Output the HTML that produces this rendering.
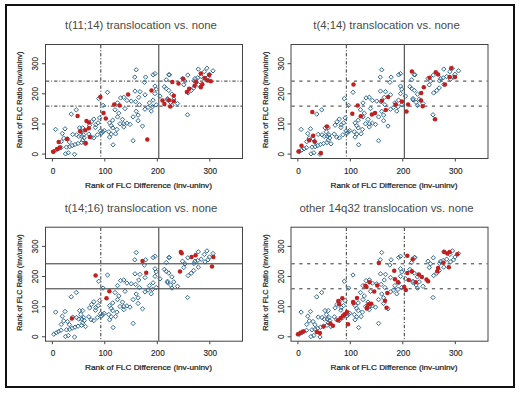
<!DOCTYPE html>
<html><head><meta charset="utf-8"><style>
html,body{margin:0;padding:0;background:#fff;width:520px;height:393px;overflow:hidden}
svg{display:block}
text{font-family:"Liberation Sans",sans-serif}
</style></head><body>
<svg width="520" height="393" viewBox="0 0 520 393">
<rect width="520" height="393" fill="#fff"/>
<g transform="translate(0,0)">
<line x1="100.8" y1="45" x2="100.8" y2="158" stroke="#333" stroke-width="1" stroke-dasharray="3.3,1.9,1,1.9"/>
<line x1="158.8" y1="45" x2="158.8" y2="158" stroke="#333" stroke-width="1"/>
<line x1="46" y1="81.1" x2="242" y2="81.1" stroke="#333" stroke-width="1" stroke-dasharray="3.3,1.9,1,1.9"/>
<line x1="46" y1="106.1" x2="242" y2="106.1" stroke="#333" stroke-width="1" stroke-dasharray="3.3,1.9,1,1.9"/>
<path d="M72.7 132.2L74.9 134.4L72.7 136.6L70.5 134.4ZM55.6 127.2L57.8 129.4L55.6 131.6L53.4 129.4ZM65.0 126.6L67.2 128.8L65.0 131.0L62.8 128.8ZM71.2 111.9L73.5 114.1L71.2 116.3L69.0 114.1ZM62.3 131.3L64.5 133.5L62.3 135.7L60.1 133.5ZM61.2 139.5L63.4 141.7L61.2 143.9L59.0 141.7ZM63.8 136.0L66.0 138.2L63.8 140.4L61.5 138.2ZM67.5 136.6L69.7 138.8L67.5 141.0L65.3 138.8ZM69.4 139.8L71.6 142.0L69.4 144.2L67.2 142.0ZM53.8 149.3L56.0 151.5L53.8 153.7L51.6 151.5ZM56.2 147.9L58.4 150.1L56.2 152.3L54.0 150.1ZM58.5 146.6L60.7 148.8L58.5 151.0L56.3 148.8ZM61.0 145.4L63.2 147.6L61.0 149.8L58.8 147.6ZM66.5 144.9L68.7 147.1L66.5 149.3L64.3 147.1ZM69.6 144.5L71.8 146.7L69.6 148.9L67.4 146.7ZM72.2 143.3L74.4 145.5L72.2 147.7L70.0 145.5ZM75.0 142.3L77.2 144.5L75.0 146.7L72.8 144.5ZM78.0 141.3L80.2 143.5L78.0 145.7L75.8 143.5ZM81.5 140.4L83.7 142.6L81.5 144.8L79.3 142.6ZM85.5 141.6L87.7 143.8L85.5 146.0L83.3 143.8ZM65.5 151.6L67.7 153.8L65.5 156.0L63.3 153.8ZM68.3 150.6L70.5 152.8L68.3 155.0L66.1 152.8ZM74.5 152.1L76.7 154.3L74.5 156.5L72.3 154.3ZM99.6 115.7L101.8 117.9L99.6 120.1L97.4 117.9ZM93.8 116.9L96.0 119.1L93.8 121.3L91.6 119.1ZM91.5 119.6L93.7 121.8L91.5 124.0L89.3 121.8ZM89.6 123.0L91.8 125.2L89.6 127.4L87.4 125.2ZM95.8 122.6L98.0 124.8L95.8 127.0L93.6 124.8ZM95.4 125.3L97.6 127.5L95.4 129.7L93.2 127.5ZM98.1 120.7L100.3 122.9L98.1 125.1L95.9 122.9ZM112.7 118.0L114.9 120.2L112.7 122.4L110.5 120.2ZM109.6 120.7L111.8 122.9L109.6 125.1L107.4 122.9ZM111.2 123.4L113.4 125.6L111.2 127.8L109.0 125.6ZM112.7 125.7L114.9 127.9L112.7 130.1L110.5 127.9ZM108.8 129.6L111.0 131.8L108.8 134.0L106.6 131.8ZM111.2 131.9L113.4 134.1L111.2 136.3L109.0 134.1ZM109.6 134.9L111.8 137.1L109.6 139.3L107.4 137.1ZM100.4 128.8L102.6 131.0L100.4 133.2L98.2 131.0ZM102.7 129.6L104.9 131.8L102.7 134.0L100.5 131.8ZM104.2 128.4L106.4 130.6L104.2 132.8L102.0 130.6ZM101.5 131.1L103.7 133.3L101.5 135.5L99.3 133.3ZM97.3 132.6L99.5 134.8L97.3 137.0L95.1 134.8ZM93.8 135.7L96.0 137.9L93.8 140.1L91.6 137.9ZM91.2 134.9L93.4 137.1L91.2 139.3L89.0 137.1ZM88.8 131.9L91.0 134.1L88.8 136.3L86.6 134.1ZM82.7 125.7L84.9 127.9L82.7 130.1L80.5 127.9ZM79.6 125.7L81.8 127.9L79.6 130.1L77.4 127.9ZM80.8 129.6L83.0 131.8L80.8 134.0L78.6 131.8ZM83.5 132.6L85.7 134.8L83.5 137.0L81.3 134.8ZM84.2 135.7L86.4 137.9L84.2 140.1L82.0 137.9ZM81.9 134.2L84.1 136.4L81.9 138.6L79.7 136.4ZM76.5 132.6L78.7 134.8L76.5 137.0L74.3 134.8ZM78.8 134.2L81.0 136.4L78.8 138.6L76.6 136.4ZM82.7 138.0L84.9 140.2L82.7 142.4L80.5 140.2ZM98.8 96.4L101.0 98.6L98.8 100.8L96.5 98.6ZM103.1 103.2L105.3 105.4L103.1 107.6L100.9 105.4ZM76.2 107.6L78.5 109.8L76.2 112.0L74.0 109.8ZM118.8 111.0L121.0 113.2L118.8 115.4L116.5 113.2ZM117.5 114.7L119.7 116.9L117.5 119.1L115.3 116.9ZM115.6 131.6L117.8 133.8L115.6 136.0L113.4 133.8ZM116.9 127.2L119.1 129.4L116.9 131.6L114.7 129.4ZM113.1 142.6L115.3 144.8L113.1 147.0L110.9 144.8ZM122.5 117.2L124.7 119.4L122.5 121.6L120.3 119.4ZM120.0 121.6L122.2 123.8L120.0 126.0L117.8 123.8ZM123.8 121.6L126.0 123.8L123.8 126.0L121.5 123.8ZM123.8 124.7L126.0 126.9L123.8 129.1L121.5 126.9ZM126.9 121.0L129.1 123.2L126.9 125.4L124.7 123.2ZM130.0 122.2L132.2 124.4L130.0 126.6L127.8 124.4ZM133.1 114.7L135.3 116.9L133.1 119.1L130.9 116.9ZM138.1 112.9L140.3 115.1L138.1 117.3L135.9 115.1ZM138.1 118.5L140.3 120.7L138.1 122.9L135.9 120.7ZM142.5 123.9L144.7 126.1L142.5 128.2L140.3 126.1ZM133.1 138.5L135.3 140.7L133.1 142.9L130.9 140.7ZM136.2 67.6L138.4 69.8L136.2 72.0L134.1 69.8ZM134.8 74.9L136.9 77.1L134.8 79.3L132.6 77.1ZM145.6 74.9L147.8 77.1L145.6 79.3L143.4 77.1ZM144.4 80.1L146.6 82.3L144.4 84.5L142.2 82.3ZM153.1 72.6L155.3 74.8L153.1 77.0L150.9 74.8ZM155.0 71.4L157.2 73.6L155.0 75.8L152.8 73.6ZM166.2 77.6L168.4 79.8L166.2 82.0L164.1 79.8ZM168.8 72.6L170.9 74.8L168.8 77.0L166.6 74.8ZM107.5 90.1L109.7 92.3L107.5 94.5L105.3 92.3ZM135.0 88.9L137.2 91.1L135.0 93.3L132.8 91.1ZM140.0 89.5L142.2 91.7L140.0 93.9L137.8 91.7ZM145.0 92.6L147.2 94.8L145.0 97.0L142.8 94.8ZM138.8 95.1L140.9 97.3L138.8 99.5L136.6 97.3ZM155.0 83.9L157.2 86.1L155.0 88.3L152.8 86.1ZM156.2 87.0L158.4 89.2L156.2 91.4L154.1 89.2ZM155.0 91.4L157.2 93.6L155.0 95.8L152.8 93.6ZM160.0 93.9L162.2 96.1L160.0 98.3L157.8 96.1ZM164.4 84.5L166.6 86.7L164.4 88.9L162.2 86.7ZM166.2 86.4L168.4 88.6L166.2 90.8L164.1 88.6ZM167.5 97.6L169.7 99.8L167.5 102.0L165.3 99.8ZM153.1 97.9L155.3 100.1L153.1 102.3L150.9 100.1ZM149.4 100.7L151.6 102.9L149.4 105.1L147.2 102.9ZM120.6 95.7L122.8 97.9L120.6 100.1L118.4 97.9ZM123.8 95.1L126.0 97.3L123.8 99.5L121.5 97.3ZM126.9 98.2L129.1 100.4L126.9 102.6L124.7 100.4ZM131.2 98.9L133.4 101.1L131.2 103.3L129.1 101.1ZM135.6 99.5L137.8 101.7L135.6 103.9L133.4 101.7ZM117.5 100.7L119.7 102.9L117.5 105.1L115.3 102.9ZM139.4 102.6L141.6 104.8L139.4 107.0L137.2 104.8ZM115.0 107.6L117.2 109.8L115.0 112.0L112.8 109.8ZM125.0 106.4L127.2 108.6L125.0 110.8L122.8 108.6ZM136.2 109.1L138.4 111.3L136.2 113.5L134.1 111.3ZM145.0 107.0L147.2 109.2L145.0 111.4L142.8 109.2ZM148.1 105.1L150.3 107.3L148.1 109.5L145.9 107.3ZM151.2 108.9L153.4 111.1L151.2 113.3L149.1 111.1ZM152.5 104.5L154.7 106.7L152.5 108.9L150.3 106.7ZM156.2 102.6L158.4 104.8L156.2 107.0L154.1 104.8ZM169.4 72.6L171.6 74.8L169.4 77.0L167.2 74.8ZM182.5 76.3L184.7 78.5L182.5 80.7L180.3 78.5ZM185.0 78.9L187.2 81.1L185.0 83.3L182.8 81.1ZM187.8 72.9L190.0 75.1L187.8 77.3L185.6 75.1ZM198.3 66.9L200.5 69.1L198.3 71.3L196.1 69.1ZM195.0 76.4L197.2 78.6L195.0 80.8L192.8 78.6ZM194.0 78.6L196.2 80.8L194.0 83.0L191.8 80.8ZM197.7 75.6L199.9 77.8L197.7 80.0L195.5 77.8ZM201.2 74.3L203.4 76.5L201.2 78.7L199.0 76.5ZM204.3 69.5L206.5 71.7L204.3 73.9L202.1 71.7ZM206.9 66.0L209.1 68.2L206.9 70.4L204.7 68.2ZM205.0 77.0L207.2 79.2L205.0 81.4L202.8 79.2ZM208.0 74.9L210.2 77.1L208.0 79.3L205.8 77.1ZM209.5 72.1L211.7 74.3L209.5 76.5L207.3 74.3ZM213.0 68.6L215.2 70.8L213.0 73.0L210.8 70.8ZM198.3 82.3L200.5 84.5L198.3 86.7L196.1 84.5ZM183.8 82.6L185.9 84.8L183.8 87.0L181.6 84.8ZM193.7 85.7L195.9 87.9L193.7 90.1L191.5 87.9ZM191.2 88.3L193.4 90.5L191.2 92.7L189.0 90.5ZM188.1 90.7L190.3 92.9L188.1 95.1L185.9 92.9ZM168.8 88.2L170.9 90.4L168.8 92.6L166.6 90.4ZM171.9 92.0L174.1 94.2L171.9 96.4L169.7 94.2ZM167.5 96.4L169.7 98.6L167.5 100.8L165.3 98.6ZM173.8 97.0L175.9 99.2L173.8 101.4L171.6 99.2ZM170.6 100.1L172.8 102.3L170.6 104.5L168.4 102.3ZM177.5 101.4L179.7 103.6L177.5 105.8L175.3 103.6ZM171.9 103.2L174.1 105.4L171.9 107.6L169.7 105.4ZM187.5 112.6L189.7 114.8L187.5 117.0L185.3 114.8Z" fill="none" stroke="#336a94" stroke-width="1"/>
<circle cx="77.6" cy="116.0" r="2.25" fill="#c21f1f"/>
<circle cx="86.5" cy="121.0" r="2.25" fill="#c21f1f"/>
<circle cx="89.0" cy="122.5" r="2.25" fill="#c21f1f"/>
<circle cx="80.1" cy="131.3" r="2.25" fill="#c21f1f"/>
<circle cx="85.2" cy="130.3" r="2.25" fill="#c21f1f"/>
<circle cx="88.8" cy="128.2" r="2.25" fill="#c21f1f"/>
<circle cx="89.8" cy="136.9" r="2.25" fill="#c21f1f"/>
<circle cx="85.7" cy="143.0" r="2.25" fill="#c21f1f"/>
<circle cx="66.9" cy="138.9" r="2.25" fill="#c21f1f"/>
<circle cx="58.7" cy="142.0" r="2.25" fill="#c21f1f"/>
<circle cx="59.8" cy="147.6" r="2.25" fill="#c21f1f"/>
<circle cx="57.2" cy="149.1" r="2.25" fill="#c21f1f"/>
<circle cx="53.1" cy="151.7" r="2.25" fill="#c21f1f"/>
<circle cx="100.4" cy="96.9" r="2.25" fill="#c21f1f"/>
<circle cx="103.5" cy="113.1" r="2.25" fill="#c21f1f"/>
<circle cx="105.8" cy="118.5" r="2.25" fill="#c21f1f"/>
<circle cx="114.2" cy="104.6" r="2.25" fill="#c21f1f"/>
<circle cx="119.6" cy="105.4" r="2.25" fill="#c21f1f"/>
<circle cx="128.1" cy="94.6" r="2.25" fill="#c21f1f"/>
<circle cx="147.3" cy="139.5" r="2.25" fill="#c21f1f"/>
<circle cx="151.5" cy="90.4" r="2.25" fill="#c21f1f"/>
<circle cx="162.5" cy="100.6" r="2.25" fill="#c21f1f"/>
<circle cx="164.4" cy="104.0" r="2.25" fill="#c21f1f"/>
<circle cx="169.0" cy="100.2" r="2.25" fill="#c21f1f"/>
<circle cx="170.2" cy="106.4" r="2.25" fill="#c21f1f"/>
<circle cx="173.8" cy="95.8" r="2.25" fill="#c21f1f"/>
<circle cx="173.8" cy="101.2" r="2.25" fill="#c21f1f"/>
<circle cx="172.3" cy="81.9" r="2.25" fill="#c21f1f"/>
<circle cx="178.5" cy="83.5" r="2.25" fill="#c21f1f"/>
<circle cx="183.1" cy="78.8" r="2.25" fill="#c21f1f"/>
<circle cx="186.9" cy="91.9" r="2.25" fill="#c21f1f"/>
<circle cx="189.2" cy="88.8" r="2.25" fill="#c21f1f"/>
<circle cx="194.6" cy="85.8" r="2.25" fill="#c21f1f"/>
<circle cx="196.2" cy="81.9" r="2.25" fill="#c21f1f"/>
<circle cx="200.8" cy="87.3" r="2.25" fill="#c21f1f"/>
<circle cx="202.3" cy="84.2" r="2.25" fill="#c21f1f"/>
<circle cx="200.8" cy="73.5" r="2.25" fill="#c21f1f"/>
<circle cx="204.6" cy="78.1" r="2.25" fill="#c21f1f"/>
<circle cx="209.2" cy="75.0" r="2.25" fill="#c21f1f"/>
<circle cx="207.7" cy="80.4" r="2.25" fill="#c21f1f"/>
<circle cx="210.8" cy="81.2" r="2.25" fill="#c21f1f"/>
<rect x="45.5" y="44.5" width="197" height="114" fill="none" stroke="#444" stroke-width="1"/>
<line x1="52.4" y1="158.5" x2="52.4" y2="161.5" stroke="#444" stroke-width="1"/>
<text x="53.0" y="173.7" font-size="8.2" text-anchor="middle" fill="#222" stroke="#222" stroke-width="0.12">0</text>
<line x1="42" y1="154.1" x2="45.5" y2="154.1" stroke="#444" stroke-width="1"/>
<text x="0" y="0" font-size="8.2" text-anchor="middle" fill="#222" stroke="#222" stroke-width="0.12" transform="translate(38 154.1) rotate(-90)">0</text>
<line x1="104.8" y1="158.5" x2="104.8" y2="161.5" stroke="#444" stroke-width="1"/>
<text x="105.4" y="173.7" font-size="8.2" text-anchor="middle" fill="#222" stroke="#222" stroke-width="0.12">100</text>
<line x1="42" y1="124.0" x2="45.5" y2="124.0" stroke="#444" stroke-width="1"/>
<text x="0" y="0" font-size="8.2" text-anchor="middle" fill="#222" stroke="#222" stroke-width="0.12" transform="translate(38 124.0) rotate(-90)">100</text>
<line x1="157.3" y1="158.5" x2="157.3" y2="161.5" stroke="#444" stroke-width="1"/>
<text x="157.9" y="173.7" font-size="8.2" text-anchor="middle" fill="#222" stroke="#222" stroke-width="0.12">200</text>
<line x1="42" y1="93.8" x2="45.5" y2="93.8" stroke="#444" stroke-width="1"/>
<text x="0" y="0" font-size="8.2" text-anchor="middle" fill="#222" stroke="#222" stroke-width="0.12" transform="translate(38 93.8) rotate(-90)">200</text>
<line x1="209.8" y1="158.5" x2="209.8" y2="161.5" stroke="#444" stroke-width="1"/>
<text x="210.3" y="173.7" font-size="8.2" text-anchor="middle" fill="#222" stroke="#222" stroke-width="0.12">300</text>
<line x1="42" y1="63.7" x2="45.5" y2="63.7" stroke="#444" stroke-width="1"/>
<text x="0" y="0" font-size="8.2" text-anchor="middle" fill="#222" stroke="#222" stroke-width="0.12" transform="translate(38 63.7) rotate(-90)">300</text>
<text x="85" y="187.8" font-size="7.5" textLength="127" lengthAdjust="spacingAndGlyphs" fill="#222" stroke="#222" stroke-width="0.22">Rank of FLC Difference (inv-uninv)</text>
<text x="0" y="0" font-size="7.4" textLength="96.5" lengthAdjust="spacingAndGlyphs" fill="#222" stroke="#222" stroke-width="0.22" transform="translate(22.3 148) rotate(-90)">Rank of FLC Ratio (inv/uninv)</text>
<text x="0" y="0" font-size="10" text-anchor="middle" fill="#4a4a4a" transform="translate(141 29.3) scale(1.137 1)">t(11;14) translocation vs. none</text>
</g><g transform="translate(245.5,0)">
<line x1="100.8" y1="45" x2="100.8" y2="158" stroke="#333" stroke-width="1" stroke-dasharray="3.3,1.9,1,1.9"/>
<line x1="158.8" y1="45" x2="158.8" y2="158" stroke="#333" stroke-width="1"/>
<line x1="46" y1="81.1" x2="242" y2="81.1" stroke="#333" stroke-width="1" stroke-dasharray="3.2,4.6"/>
<line x1="46" y1="106.1" x2="242" y2="106.1" stroke="#333" stroke-width="1" stroke-dasharray="3.2,4.6"/>
<path d="M72.7 132.2L74.9 134.4L72.7 136.6L70.5 134.4ZM55.6 127.2L57.8 129.4L55.6 131.6L53.4 129.4ZM65.0 126.6L67.2 128.8L65.0 131.0L62.8 128.8ZM71.2 111.9L73.5 114.1L71.2 116.3L69.0 114.1ZM62.3 131.3L64.5 133.5L62.3 135.7L60.1 133.5ZM61.2 139.5L63.4 141.7L61.2 143.9L59.0 141.7ZM63.8 136.0L66.0 138.2L63.8 140.4L61.5 138.2ZM67.5 136.6L69.7 138.8L67.5 141.0L65.3 138.8ZM69.4 139.8L71.6 142.0L69.4 144.2L67.2 142.0ZM53.8 149.3L56.0 151.5L53.8 153.7L51.6 151.5ZM56.2 147.9L58.4 150.1L56.2 152.3L54.0 150.1ZM58.5 146.6L60.7 148.8L58.5 151.0L56.3 148.8ZM61.0 145.4L63.2 147.6L61.0 149.8L58.8 147.6ZM66.5 144.9L68.7 147.1L66.5 149.3L64.3 147.1ZM69.6 144.5L71.8 146.7L69.6 148.9L67.4 146.7ZM72.2 143.3L74.4 145.5L72.2 147.7L70.0 145.5ZM75.0 142.3L77.2 144.5L75.0 146.7L72.8 144.5ZM78.0 141.3L80.2 143.5L78.0 145.7L75.8 143.5ZM81.5 140.4L83.7 142.6L81.5 144.8L79.3 142.6ZM85.5 141.6L87.7 143.8L85.5 146.0L83.3 143.8ZM65.5 151.6L67.7 153.8L65.5 156.0L63.3 153.8ZM68.3 150.6L70.5 152.8L68.3 155.0L66.1 152.8ZM74.5 152.1L76.7 154.3L74.5 156.5L72.3 154.3ZM99.6 115.7L101.8 117.9L99.6 120.1L97.4 117.9ZM93.8 116.9L96.0 119.1L93.8 121.3L91.6 119.1ZM91.5 119.6L93.7 121.8L91.5 124.0L89.3 121.8ZM89.6 123.0L91.8 125.2L89.6 127.4L87.4 125.2ZM95.8 122.6L98.0 124.8L95.8 127.0L93.6 124.8ZM95.4 125.3L97.6 127.5L95.4 129.7L93.2 127.5ZM98.1 120.7L100.3 122.9L98.1 125.1L95.9 122.9ZM112.7 118.0L114.9 120.2L112.7 122.4L110.5 120.2ZM109.6 120.7L111.8 122.9L109.6 125.1L107.4 122.9ZM111.2 123.4L113.4 125.6L111.2 127.8L109.0 125.6ZM112.7 125.7L114.9 127.9L112.7 130.1L110.5 127.9ZM108.8 129.6L111.0 131.8L108.8 134.0L106.6 131.8ZM111.2 131.9L113.4 134.1L111.2 136.3L109.0 134.1ZM109.6 134.9L111.8 137.1L109.6 139.3L107.4 137.1ZM100.4 128.8L102.6 131.0L100.4 133.2L98.2 131.0ZM102.7 129.6L104.9 131.8L102.7 134.0L100.5 131.8ZM104.2 128.4L106.4 130.6L104.2 132.8L102.0 130.6ZM101.5 131.1L103.7 133.3L101.5 135.5L99.3 133.3ZM97.3 132.6L99.5 134.8L97.3 137.0L95.1 134.8ZM93.8 135.7L96.0 137.9L93.8 140.1L91.6 137.9ZM91.2 134.9L93.4 137.1L91.2 139.3L89.0 137.1ZM88.8 131.9L91.0 134.1L88.8 136.3L86.6 134.1ZM82.7 125.7L84.9 127.9L82.7 130.1L80.5 127.9ZM79.6 125.7L81.8 127.9L79.6 130.1L77.4 127.9ZM80.8 129.6L83.0 131.8L80.8 134.0L78.6 131.8ZM83.5 132.6L85.7 134.8L83.5 137.0L81.3 134.8ZM84.2 135.7L86.4 137.9L84.2 140.1L82.0 137.9ZM81.9 134.2L84.1 136.4L81.9 138.6L79.7 136.4ZM76.5 132.6L78.7 134.8L76.5 137.0L74.3 134.8ZM78.8 134.2L81.0 136.4L78.8 138.6L76.6 136.4ZM82.7 138.0L84.9 140.2L82.7 142.4L80.5 140.2ZM98.8 96.4L101.0 98.6L98.8 100.8L96.5 98.6ZM103.1 103.2L105.3 105.4L103.1 107.6L100.9 105.4ZM76.2 107.6L78.5 109.8L76.2 112.0L74.0 109.8ZM118.8 111.0L121.0 113.2L118.8 115.4L116.5 113.2ZM117.5 114.7L119.7 116.9L117.5 119.1L115.3 116.9ZM115.6 131.6L117.8 133.8L115.6 136.0L113.4 133.8ZM116.9 127.2L119.1 129.4L116.9 131.6L114.7 129.4ZM113.1 142.6L115.3 144.8L113.1 147.0L110.9 144.8ZM122.5 117.2L124.7 119.4L122.5 121.6L120.3 119.4ZM120.0 121.6L122.2 123.8L120.0 126.0L117.8 123.8ZM123.8 121.6L126.0 123.8L123.8 126.0L121.5 123.8ZM123.8 124.7L126.0 126.9L123.8 129.1L121.5 126.9ZM126.9 121.0L129.1 123.2L126.9 125.4L124.7 123.2ZM130.0 122.2L132.2 124.4L130.0 126.6L127.8 124.4ZM133.1 114.7L135.3 116.9L133.1 119.1L130.9 116.9ZM138.1 112.9L140.3 115.1L138.1 117.3L135.9 115.1ZM138.1 118.5L140.3 120.7L138.1 122.9L135.9 120.7ZM142.5 123.9L144.7 126.1L142.5 128.2L140.3 126.1ZM133.1 138.5L135.3 140.7L133.1 142.9L130.9 140.7ZM136.2 67.6L138.4 69.8L136.2 72.0L134.1 69.8ZM134.8 74.9L136.9 77.1L134.8 79.3L132.6 77.1ZM145.6 74.9L147.8 77.1L145.6 79.3L143.4 77.1ZM144.4 80.1L146.6 82.3L144.4 84.5L142.2 82.3ZM153.1 72.6L155.3 74.8L153.1 77.0L150.9 74.8ZM155.0 71.4L157.2 73.6L155.0 75.8L152.8 73.6ZM166.2 77.6L168.4 79.8L166.2 82.0L164.1 79.8ZM168.8 72.6L170.9 74.8L168.8 77.0L166.6 74.8ZM107.5 90.1L109.7 92.3L107.5 94.5L105.3 92.3ZM135.0 88.9L137.2 91.1L135.0 93.3L132.8 91.1ZM140.0 89.5L142.2 91.7L140.0 93.9L137.8 91.7ZM145.0 92.6L147.2 94.8L145.0 97.0L142.8 94.8ZM138.8 95.1L140.9 97.3L138.8 99.5L136.6 97.3ZM155.0 83.9L157.2 86.1L155.0 88.3L152.8 86.1ZM156.2 87.0L158.4 89.2L156.2 91.4L154.1 89.2ZM155.0 91.4L157.2 93.6L155.0 95.8L152.8 93.6ZM160.0 93.9L162.2 96.1L160.0 98.3L157.8 96.1ZM164.4 84.5L166.6 86.7L164.4 88.9L162.2 86.7ZM166.2 86.4L168.4 88.6L166.2 90.8L164.1 88.6ZM167.5 97.6L169.7 99.8L167.5 102.0L165.3 99.8ZM153.1 97.9L155.3 100.1L153.1 102.3L150.9 100.1ZM149.4 100.7L151.6 102.9L149.4 105.1L147.2 102.9ZM120.6 95.7L122.8 97.9L120.6 100.1L118.4 97.9ZM123.8 95.1L126.0 97.3L123.8 99.5L121.5 97.3ZM126.9 98.2L129.1 100.4L126.9 102.6L124.7 100.4ZM131.2 98.9L133.4 101.1L131.2 103.3L129.1 101.1ZM135.6 99.5L137.8 101.7L135.6 103.9L133.4 101.7ZM117.5 100.7L119.7 102.9L117.5 105.1L115.3 102.9ZM139.4 102.6L141.6 104.8L139.4 107.0L137.2 104.8ZM115.0 107.6L117.2 109.8L115.0 112.0L112.8 109.8ZM125.0 106.4L127.2 108.6L125.0 110.8L122.8 108.6ZM136.2 109.1L138.4 111.3L136.2 113.5L134.1 111.3ZM145.0 107.0L147.2 109.2L145.0 111.4L142.8 109.2ZM148.1 105.1L150.3 107.3L148.1 109.5L145.9 107.3ZM151.2 108.9L153.4 111.1L151.2 113.3L149.1 111.1ZM152.5 104.5L154.7 106.7L152.5 108.9L150.3 106.7ZM156.2 102.6L158.4 104.8L156.2 107.0L154.1 104.8ZM169.4 72.6L171.6 74.8L169.4 77.0L167.2 74.8ZM182.5 76.3L184.7 78.5L182.5 80.7L180.3 78.5ZM185.0 78.9L187.2 81.1L185.0 83.3L182.8 81.1ZM187.8 72.9L190.0 75.1L187.8 77.3L185.6 75.1ZM198.3 66.9L200.5 69.1L198.3 71.3L196.1 69.1ZM195.0 76.4L197.2 78.6L195.0 80.8L192.8 78.6ZM194.0 78.6L196.2 80.8L194.0 83.0L191.8 80.8ZM197.7 75.6L199.9 77.8L197.7 80.0L195.5 77.8ZM201.2 74.3L203.4 76.5L201.2 78.7L199.0 76.5ZM204.3 69.5L206.5 71.7L204.3 73.9L202.1 71.7ZM206.9 66.0L209.1 68.2L206.9 70.4L204.7 68.2ZM205.0 77.0L207.2 79.2L205.0 81.4L202.8 79.2ZM208.0 74.9L210.2 77.1L208.0 79.3L205.8 77.1ZM209.5 72.1L211.7 74.3L209.5 76.5L207.3 74.3ZM213.0 68.6L215.2 70.8L213.0 73.0L210.8 70.8ZM198.3 82.3L200.5 84.5L198.3 86.7L196.1 84.5ZM183.8 82.6L185.9 84.8L183.8 87.0L181.6 84.8ZM193.7 85.7L195.9 87.9L193.7 90.1L191.5 87.9ZM191.2 88.3L193.4 90.5L191.2 92.7L189.0 90.5ZM188.1 90.7L190.3 92.9L188.1 95.1L185.9 92.9ZM168.8 88.2L170.9 90.4L168.8 92.6L166.6 90.4ZM171.9 92.0L174.1 94.2L171.9 96.4L169.7 94.2ZM167.5 96.4L169.7 98.6L167.5 100.8L165.3 98.6ZM173.8 97.0L175.9 99.2L173.8 101.4L171.6 99.2ZM170.6 100.1L172.8 102.3L170.6 104.5L168.4 102.3ZM177.5 101.4L179.7 103.6L177.5 105.8L175.3 103.6ZM171.9 103.2L174.1 105.4L171.9 107.6L169.7 105.4ZM187.5 112.6L189.7 114.8L187.5 117.0L185.3 114.8Z" fill="none" stroke="#336a94" stroke-width="1"/>
<circle cx="66.8" cy="112.0" r="2.25" fill="#c21f1f"/>
<circle cx="81.4" cy="126.5" r="2.25" fill="#c21f1f"/>
<circle cx="67.6" cy="135.7" r="2.25" fill="#c21f1f"/>
<circle cx="63.7" cy="140.3" r="2.25" fill="#c21f1f"/>
<circle cx="69.1" cy="141.5" r="2.25" fill="#c21f1f"/>
<circle cx="56.0" cy="145.8" r="2.25" fill="#c21f1f"/>
<circle cx="53.0" cy="151.5" r="2.25" fill="#c21f1f"/>
<circle cx="75.3" cy="153.1" r="2.25" fill="#c21f1f"/>
<circle cx="106.8" cy="113.8" r="2.25" fill="#c21f1f"/>
<circle cx="112.2" cy="105.4" r="2.25" fill="#c21f1f"/>
<circle cx="115.3" cy="116.2" r="2.25" fill="#c21f1f"/>
<circle cx="108.0" cy="84.6" r="2.25" fill="#c21f1f"/>
<circle cx="166.4" cy="71.5" r="2.25" fill="#c21f1f"/>
<circle cx="142.6" cy="96.9" r="2.25" fill="#c21f1f"/>
<circle cx="136.4" cy="100.8" r="2.25" fill="#c21f1f"/>
<circle cx="150.3" cy="104.6" r="2.25" fill="#c21f1f"/>
<circle cx="156.4" cy="101.5" r="2.25" fill="#c21f1f"/>
<circle cx="162.6" cy="104.6" r="2.25" fill="#c21f1f"/>
<circle cx="161.0" cy="111.5" r="2.25" fill="#c21f1f"/>
<circle cx="140.3" cy="110.0" r="2.25" fill="#c21f1f"/>
<circle cx="129.5" cy="113.1" r="2.25" fill="#c21f1f"/>
<circle cx="126.4" cy="114.6" r="2.25" fill="#c21f1f"/>
<circle cx="175.7" cy="93.1" r="2.25" fill="#c21f1f"/>
<circle cx="178.3" cy="87.3" r="2.25" fill="#c21f1f"/>
<circle cx="175.5" cy="100.5" r="2.25" fill="#c21f1f"/>
<circle cx="177.2" cy="106.2" r="2.25" fill="#c21f1f"/>
<circle cx="184.1" cy="77.7" r="2.25" fill="#c21f1f"/>
<circle cx="190.3" cy="72.3" r="2.25" fill="#c21f1f"/>
<circle cx="192.6" cy="74.6" r="2.25" fill="#c21f1f"/>
<circle cx="199.5" cy="84.6" r="2.25" fill="#c21f1f"/>
<circle cx="205.7" cy="68.2" r="2.25" fill="#c21f1f"/>
<circle cx="204.1" cy="76.9" r="2.25" fill="#c21f1f"/>
<circle cx="209.5" cy="76.9" r="2.25" fill="#c21f1f"/>
<circle cx="189.5" cy="119.2" r="2.25" fill="#c21f1f"/>
<rect x="45.5" y="44.5" width="197" height="114" fill="none" stroke="#444" stroke-width="1"/>
<line x1="52.4" y1="158.5" x2="52.4" y2="161.5" stroke="#444" stroke-width="1"/>
<text x="53.0" y="173.7" font-size="8.2" text-anchor="middle" fill="#222" stroke="#222" stroke-width="0.12">0</text>
<line x1="42" y1="154.1" x2="45.5" y2="154.1" stroke="#444" stroke-width="1"/>
<text x="0" y="0" font-size="8.2" text-anchor="middle" fill="#222" stroke="#222" stroke-width="0.12" transform="translate(38 154.1) rotate(-90)">0</text>
<line x1="104.8" y1="158.5" x2="104.8" y2="161.5" stroke="#444" stroke-width="1"/>
<text x="105.4" y="173.7" font-size="8.2" text-anchor="middle" fill="#222" stroke="#222" stroke-width="0.12">100</text>
<line x1="42" y1="124.0" x2="45.5" y2="124.0" stroke="#444" stroke-width="1"/>
<text x="0" y="0" font-size="8.2" text-anchor="middle" fill="#222" stroke="#222" stroke-width="0.12" transform="translate(38 124.0) rotate(-90)">100</text>
<line x1="157.3" y1="158.5" x2="157.3" y2="161.5" stroke="#444" stroke-width="1"/>
<text x="157.9" y="173.7" font-size="8.2" text-anchor="middle" fill="#222" stroke="#222" stroke-width="0.12">200</text>
<line x1="42" y1="93.8" x2="45.5" y2="93.8" stroke="#444" stroke-width="1"/>
<text x="0" y="0" font-size="8.2" text-anchor="middle" fill="#222" stroke="#222" stroke-width="0.12" transform="translate(38 93.8) rotate(-90)">200</text>
<line x1="209.8" y1="158.5" x2="209.8" y2="161.5" stroke="#444" stroke-width="1"/>
<text x="210.3" y="173.7" font-size="8.2" text-anchor="middle" fill="#222" stroke="#222" stroke-width="0.12">300</text>
<line x1="42" y1="63.7" x2="45.5" y2="63.7" stroke="#444" stroke-width="1"/>
<text x="0" y="0" font-size="8.2" text-anchor="middle" fill="#222" stroke="#222" stroke-width="0.12" transform="translate(38 63.7) rotate(-90)">300</text>
<text x="85" y="187.8" font-size="7.5" textLength="127" lengthAdjust="spacingAndGlyphs" fill="#222" stroke="#222" stroke-width="0.22">Rank of FLC Difference (inv-uninv)</text>
<text x="0" y="0" font-size="7.4" textLength="96.5" lengthAdjust="spacingAndGlyphs" fill="#222" stroke="#222" stroke-width="0.22" transform="translate(22.3 148) rotate(-90)">Rank of FLC Ratio (inv/uninv)</text>
<text x="0" y="0" font-size="10" text-anchor="middle" fill="#4a4a4a" transform="translate(141 29.3) scale(1.137 1)">t(4;14) translocation vs. none</text>
</g><g transform="translate(0,182.7)">
<line x1="100.8" y1="45" x2="100.8" y2="158" stroke="#333" stroke-width="1" stroke-dasharray="3.3,1.9,1,1.9"/>
<line x1="158.8" y1="45" x2="158.8" y2="158" stroke="#333" stroke-width="1"/>
<line x1="46" y1="81.1" x2="242" y2="81.1" stroke="#333" stroke-width="1"/>
<line x1="46" y1="106.1" x2="242" y2="106.1" stroke="#333" stroke-width="1"/>
<path d="M72.7 132.2L74.9 134.4L72.7 136.6L70.5 134.4ZM55.6 127.2L57.8 129.4L55.6 131.6L53.4 129.4ZM65.0 126.6L67.2 128.8L65.0 131.0L62.8 128.8ZM71.2 111.9L73.5 114.1L71.2 116.3L69.0 114.1ZM62.3 131.3L64.5 133.5L62.3 135.7L60.1 133.5ZM61.2 139.5L63.4 141.7L61.2 143.9L59.0 141.7ZM63.8 136.0L66.0 138.2L63.8 140.4L61.5 138.2ZM67.5 136.6L69.7 138.8L67.5 141.0L65.3 138.8ZM69.4 139.8L71.6 142.0L69.4 144.2L67.2 142.0ZM53.8 149.3L56.0 151.5L53.8 153.7L51.6 151.5ZM56.2 147.9L58.4 150.1L56.2 152.3L54.0 150.1ZM58.5 146.6L60.7 148.8L58.5 151.0L56.3 148.8ZM61.0 145.4L63.2 147.6L61.0 149.8L58.8 147.6ZM66.5 144.9L68.7 147.1L66.5 149.3L64.3 147.1ZM69.6 144.5L71.8 146.7L69.6 148.9L67.4 146.7ZM72.2 143.3L74.4 145.5L72.2 147.7L70.0 145.5ZM75.0 142.3L77.2 144.5L75.0 146.7L72.8 144.5ZM78.0 141.3L80.2 143.5L78.0 145.7L75.8 143.5ZM81.5 140.4L83.7 142.6L81.5 144.8L79.3 142.6ZM85.5 141.6L87.7 143.8L85.5 146.0L83.3 143.8ZM65.5 151.6L67.7 153.8L65.5 156.0L63.3 153.8ZM68.3 150.6L70.5 152.8L68.3 155.0L66.1 152.8ZM74.5 152.1L76.7 154.3L74.5 156.5L72.3 154.3ZM99.6 115.7L101.8 117.9L99.6 120.1L97.4 117.9ZM93.8 116.9L96.0 119.1L93.8 121.3L91.6 119.1ZM91.5 119.6L93.7 121.8L91.5 124.0L89.3 121.8ZM89.6 123.0L91.8 125.2L89.6 127.4L87.4 125.2ZM95.8 122.6L98.0 124.8L95.8 127.0L93.6 124.8ZM95.4 125.3L97.6 127.5L95.4 129.7L93.2 127.5ZM98.1 120.7L100.3 122.9L98.1 125.1L95.9 122.9ZM112.7 118.0L114.9 120.2L112.7 122.4L110.5 120.2ZM109.6 120.7L111.8 122.9L109.6 125.1L107.4 122.9ZM111.2 123.4L113.4 125.6L111.2 127.8L109.0 125.6ZM112.7 125.7L114.9 127.9L112.7 130.1L110.5 127.9ZM108.8 129.6L111.0 131.8L108.8 134.0L106.6 131.8ZM111.2 131.9L113.4 134.1L111.2 136.3L109.0 134.1ZM109.6 134.9L111.8 137.1L109.6 139.3L107.4 137.1ZM100.4 128.8L102.6 131.0L100.4 133.2L98.2 131.0ZM102.7 129.6L104.9 131.8L102.7 134.0L100.5 131.8ZM104.2 128.4L106.4 130.6L104.2 132.8L102.0 130.6ZM101.5 131.1L103.7 133.3L101.5 135.5L99.3 133.3ZM97.3 132.6L99.5 134.8L97.3 137.0L95.1 134.8ZM93.8 135.7L96.0 137.9L93.8 140.1L91.6 137.9ZM91.2 134.9L93.4 137.1L91.2 139.3L89.0 137.1ZM88.8 131.9L91.0 134.1L88.8 136.3L86.6 134.1ZM82.7 125.7L84.9 127.9L82.7 130.1L80.5 127.9ZM79.6 125.7L81.8 127.9L79.6 130.1L77.4 127.9ZM80.8 129.6L83.0 131.8L80.8 134.0L78.6 131.8ZM83.5 132.6L85.7 134.8L83.5 137.0L81.3 134.8ZM84.2 135.7L86.4 137.9L84.2 140.1L82.0 137.9ZM81.9 134.2L84.1 136.4L81.9 138.6L79.7 136.4ZM76.5 132.6L78.7 134.8L76.5 137.0L74.3 134.8ZM78.8 134.2L81.0 136.4L78.8 138.6L76.6 136.4ZM82.7 138.0L84.9 140.2L82.7 142.4L80.5 140.2ZM98.8 96.4L101.0 98.6L98.8 100.8L96.5 98.6ZM103.1 103.2L105.3 105.4L103.1 107.6L100.9 105.4ZM76.2 107.6L78.5 109.8L76.2 112.0L74.0 109.8ZM118.8 111.0L121.0 113.2L118.8 115.4L116.5 113.2ZM117.5 114.7L119.7 116.9L117.5 119.1L115.3 116.9ZM115.6 131.6L117.8 133.8L115.6 136.0L113.4 133.8ZM116.9 127.2L119.1 129.4L116.9 131.6L114.7 129.4ZM113.1 142.6L115.3 144.8L113.1 147.0L110.9 144.8ZM122.5 117.2L124.7 119.4L122.5 121.6L120.3 119.4ZM120.0 121.6L122.2 123.8L120.0 126.0L117.8 123.8ZM123.8 121.6L126.0 123.8L123.8 126.0L121.5 123.8ZM123.8 124.7L126.0 126.9L123.8 129.1L121.5 126.9ZM126.9 121.0L129.1 123.2L126.9 125.4L124.7 123.2ZM130.0 122.2L132.2 124.4L130.0 126.6L127.8 124.4ZM133.1 114.7L135.3 116.9L133.1 119.1L130.9 116.9ZM138.1 112.9L140.3 115.1L138.1 117.3L135.9 115.1ZM138.1 118.5L140.3 120.7L138.1 122.9L135.9 120.7ZM142.5 123.9L144.7 126.1L142.5 128.2L140.3 126.1ZM133.1 138.5L135.3 140.7L133.1 142.9L130.9 140.7ZM136.2 67.6L138.4 69.8L136.2 72.0L134.1 69.8ZM134.8 74.9L136.9 77.1L134.8 79.3L132.6 77.1ZM145.6 74.9L147.8 77.1L145.6 79.3L143.4 77.1ZM144.4 80.1L146.6 82.3L144.4 84.5L142.2 82.3ZM153.1 72.6L155.3 74.8L153.1 77.0L150.9 74.8ZM155.0 71.4L157.2 73.6L155.0 75.8L152.8 73.6ZM166.2 77.6L168.4 79.8L166.2 82.0L164.1 79.8ZM168.8 72.6L170.9 74.8L168.8 77.0L166.6 74.8ZM107.5 90.1L109.7 92.3L107.5 94.5L105.3 92.3ZM135.0 88.9L137.2 91.1L135.0 93.3L132.8 91.1ZM140.0 89.5L142.2 91.7L140.0 93.9L137.8 91.7ZM145.0 92.6L147.2 94.8L145.0 97.0L142.8 94.8ZM138.8 95.1L140.9 97.3L138.8 99.5L136.6 97.3ZM155.0 83.9L157.2 86.1L155.0 88.3L152.8 86.1ZM156.2 87.0L158.4 89.2L156.2 91.4L154.1 89.2ZM155.0 91.4L157.2 93.6L155.0 95.8L152.8 93.6ZM160.0 93.9L162.2 96.1L160.0 98.3L157.8 96.1ZM164.4 84.5L166.6 86.7L164.4 88.9L162.2 86.7ZM166.2 86.4L168.4 88.6L166.2 90.8L164.1 88.6ZM167.5 97.6L169.7 99.8L167.5 102.0L165.3 99.8ZM153.1 97.9L155.3 100.1L153.1 102.3L150.9 100.1ZM149.4 100.7L151.6 102.9L149.4 105.1L147.2 102.9ZM120.6 95.7L122.8 97.9L120.6 100.1L118.4 97.9ZM123.8 95.1L126.0 97.3L123.8 99.5L121.5 97.3ZM126.9 98.2L129.1 100.4L126.9 102.6L124.7 100.4ZM131.2 98.9L133.4 101.1L131.2 103.3L129.1 101.1ZM135.6 99.5L137.8 101.7L135.6 103.9L133.4 101.7ZM117.5 100.7L119.7 102.9L117.5 105.1L115.3 102.9ZM139.4 102.6L141.6 104.8L139.4 107.0L137.2 104.8ZM115.0 107.6L117.2 109.8L115.0 112.0L112.8 109.8ZM125.0 106.4L127.2 108.6L125.0 110.8L122.8 108.6ZM136.2 109.1L138.4 111.3L136.2 113.5L134.1 111.3ZM145.0 107.0L147.2 109.2L145.0 111.4L142.8 109.2ZM148.1 105.1L150.3 107.3L148.1 109.5L145.9 107.3ZM151.2 108.9L153.4 111.1L151.2 113.3L149.1 111.1ZM152.5 104.5L154.7 106.7L152.5 108.9L150.3 106.7ZM156.2 102.6L158.4 104.8L156.2 107.0L154.1 104.8ZM169.4 72.6L171.6 74.8L169.4 77.0L167.2 74.8ZM182.5 76.3L184.7 78.5L182.5 80.7L180.3 78.5ZM185.0 78.9L187.2 81.1L185.0 83.3L182.8 81.1ZM187.8 72.9L190.0 75.1L187.8 77.3L185.6 75.1ZM198.3 66.9L200.5 69.1L198.3 71.3L196.1 69.1ZM195.0 76.4L197.2 78.6L195.0 80.8L192.8 78.6ZM194.0 78.6L196.2 80.8L194.0 83.0L191.8 80.8ZM197.7 75.6L199.9 77.8L197.7 80.0L195.5 77.8ZM201.2 74.3L203.4 76.5L201.2 78.7L199.0 76.5ZM204.3 69.5L206.5 71.7L204.3 73.9L202.1 71.7ZM206.9 66.0L209.1 68.2L206.9 70.4L204.7 68.2ZM205.0 77.0L207.2 79.2L205.0 81.4L202.8 79.2ZM208.0 74.9L210.2 77.1L208.0 79.3L205.8 77.1ZM209.5 72.1L211.7 74.3L209.5 76.5L207.3 74.3ZM213.0 68.6L215.2 70.8L213.0 73.0L210.8 70.8ZM198.3 82.3L200.5 84.5L198.3 86.7L196.1 84.5ZM183.8 82.6L185.9 84.8L183.8 87.0L181.6 84.8ZM193.7 85.7L195.9 87.9L193.7 90.1L191.5 87.9ZM191.2 88.3L193.4 90.5L191.2 92.7L189.0 90.5ZM188.1 90.7L190.3 92.9L188.1 95.1L185.9 92.9ZM168.8 88.2L170.9 90.4L168.8 92.6L166.6 90.4ZM171.9 92.0L174.1 94.2L171.9 96.4L169.7 94.2ZM167.5 96.4L169.7 98.6L167.5 100.8L165.3 98.6ZM173.8 97.0L175.9 99.2L173.8 101.4L171.6 99.2ZM170.6 100.1L172.8 102.3L170.6 104.5L168.4 102.3ZM177.5 101.4L179.7 103.6L177.5 105.8L175.3 103.6ZM171.9 103.2L174.1 105.4L171.9 107.6L169.7 105.4ZM187.5 112.6L189.7 114.8L187.5 117.0L185.3 114.8Z" fill="none" stroke="#336a94" stroke-width="1"/>
<circle cx="71.9" cy="135.7" r="2.25" fill="#c21f1f"/>
<circle cx="106.5" cy="115.6" r="2.25" fill="#c21f1f"/>
<circle cx="95.6" cy="92.9" r="2.25" fill="#c21f1f"/>
<circle cx="109.4" cy="108.6" r="2.25" fill="#c21f1f"/>
<circle cx="142.5" cy="78.3" r="2.25" fill="#c21f1f"/>
<circle cx="146.2" cy="90.1" r="2.25" fill="#c21f1f"/>
<circle cx="180.8" cy="69.2" r="2.25" fill="#c21f1f"/>
<circle cx="181.7" cy="70.5" r="2.25" fill="#c21f1f"/>
<circle cx="191.6" cy="74.3" r="2.25" fill="#c21f1f"/>
<circle cx="195.6" cy="72.5" r="2.25" fill="#c21f1f"/>
<circle cx="213.3" cy="74.2" r="2.25" fill="#c21f1f"/>
<circle cx="212.0" cy="83.9" r="2.25" fill="#c21f1f"/>
<circle cx="180.0" cy="88.8" r="2.25" fill="#c21f1f"/>
<rect x="45.5" y="44.5" width="197" height="114" fill="none" stroke="#444" stroke-width="1"/>
<line x1="52.4" y1="158.5" x2="52.4" y2="161.5" stroke="#444" stroke-width="1"/>
<text x="53.0" y="173.7" font-size="8.2" text-anchor="middle" fill="#222" stroke="#222" stroke-width="0.12">0</text>
<line x1="42" y1="154.1" x2="45.5" y2="154.1" stroke="#444" stroke-width="1"/>
<text x="0" y="0" font-size="8.2" text-anchor="middle" fill="#222" stroke="#222" stroke-width="0.12" transform="translate(38 154.1) rotate(-90)">0</text>
<line x1="104.8" y1="158.5" x2="104.8" y2="161.5" stroke="#444" stroke-width="1"/>
<text x="105.4" y="173.7" font-size="8.2" text-anchor="middle" fill="#222" stroke="#222" stroke-width="0.12">100</text>
<line x1="42" y1="124.0" x2="45.5" y2="124.0" stroke="#444" stroke-width="1"/>
<text x="0" y="0" font-size="8.2" text-anchor="middle" fill="#222" stroke="#222" stroke-width="0.12" transform="translate(38 124.0) rotate(-90)">100</text>
<line x1="157.3" y1="158.5" x2="157.3" y2="161.5" stroke="#444" stroke-width="1"/>
<text x="157.9" y="173.7" font-size="8.2" text-anchor="middle" fill="#222" stroke="#222" stroke-width="0.12">200</text>
<line x1="42" y1="93.8" x2="45.5" y2="93.8" stroke="#444" stroke-width="1"/>
<text x="0" y="0" font-size="8.2" text-anchor="middle" fill="#222" stroke="#222" stroke-width="0.12" transform="translate(38 93.8) rotate(-90)">200</text>
<line x1="209.8" y1="158.5" x2="209.8" y2="161.5" stroke="#444" stroke-width="1"/>
<text x="210.3" y="173.7" font-size="8.2" text-anchor="middle" fill="#222" stroke="#222" stroke-width="0.12">300</text>
<line x1="42" y1="63.7" x2="45.5" y2="63.7" stroke="#444" stroke-width="1"/>
<text x="0" y="0" font-size="8.2" text-anchor="middle" fill="#222" stroke="#222" stroke-width="0.12" transform="translate(38 63.7) rotate(-90)">300</text>
<text x="85" y="187.8" font-size="7.5" textLength="127" lengthAdjust="spacingAndGlyphs" fill="#222" stroke="#222" stroke-width="0.22">Rank of FLC Difference (inv-uninv)</text>
<text x="0" y="0" font-size="7.4" textLength="96.5" lengthAdjust="spacingAndGlyphs" fill="#222" stroke="#222" stroke-width="0.22" transform="translate(22.3 148) rotate(-90)">Rank of FLC Ratio (inv/uninv)</text>
<text x="0" y="0" font-size="10" text-anchor="middle" fill="#4a4a4a" transform="translate(141 29.3) scale(1.137 1)">t(14;16) translocation vs. none</text>
</g><g transform="translate(245.5,182.7)">
<line x1="100.8" y1="45" x2="100.8" y2="158" stroke="#333" stroke-width="1" stroke-dasharray="3.3,1.9,1,1.9"/>
<line x1="158.8" y1="45" x2="158.8" y2="158" stroke="#333" stroke-width="1" stroke-dasharray="3.3,1.9,1,1.9"/>
<line x1="46" y1="81.1" x2="242" y2="81.1" stroke="#333" stroke-width="1" stroke-dasharray="3.2,4.6"/>
<line x1="46" y1="106.1" x2="242" y2="106.1" stroke="#333" stroke-width="1" stroke-dasharray="3.2,4.6"/>
<path d="M72.7 132.2L74.9 134.4L72.7 136.6L70.5 134.4ZM55.6 127.2L57.8 129.4L55.6 131.6L53.4 129.4ZM65.0 126.6L67.2 128.8L65.0 131.0L62.8 128.8ZM71.2 111.9L73.5 114.1L71.2 116.3L69.0 114.1ZM62.3 131.3L64.5 133.5L62.3 135.7L60.1 133.5ZM61.2 139.5L63.4 141.7L61.2 143.9L59.0 141.7ZM63.8 136.0L66.0 138.2L63.8 140.4L61.5 138.2ZM67.5 136.6L69.7 138.8L67.5 141.0L65.3 138.8ZM69.4 139.8L71.6 142.0L69.4 144.2L67.2 142.0ZM53.8 149.3L56.0 151.5L53.8 153.7L51.6 151.5ZM56.2 147.9L58.4 150.1L56.2 152.3L54.0 150.1ZM58.5 146.6L60.7 148.8L58.5 151.0L56.3 148.8ZM61.0 145.4L63.2 147.6L61.0 149.8L58.8 147.6ZM66.5 144.9L68.7 147.1L66.5 149.3L64.3 147.1ZM69.6 144.5L71.8 146.7L69.6 148.9L67.4 146.7ZM72.2 143.3L74.4 145.5L72.2 147.7L70.0 145.5ZM75.0 142.3L77.2 144.5L75.0 146.7L72.8 144.5ZM78.0 141.3L80.2 143.5L78.0 145.7L75.8 143.5ZM81.5 140.4L83.7 142.6L81.5 144.8L79.3 142.6ZM85.5 141.6L87.7 143.8L85.5 146.0L83.3 143.8ZM65.5 151.6L67.7 153.8L65.5 156.0L63.3 153.8ZM68.3 150.6L70.5 152.8L68.3 155.0L66.1 152.8ZM74.5 152.1L76.7 154.3L74.5 156.5L72.3 154.3ZM99.6 115.7L101.8 117.9L99.6 120.1L97.4 117.9ZM93.8 116.9L96.0 119.1L93.8 121.3L91.6 119.1ZM91.5 119.6L93.7 121.8L91.5 124.0L89.3 121.8ZM89.6 123.0L91.8 125.2L89.6 127.4L87.4 125.2ZM95.8 122.6L98.0 124.8L95.8 127.0L93.6 124.8ZM95.4 125.3L97.6 127.5L95.4 129.7L93.2 127.5ZM98.1 120.7L100.3 122.9L98.1 125.1L95.9 122.9ZM112.7 118.0L114.9 120.2L112.7 122.4L110.5 120.2ZM109.6 120.7L111.8 122.9L109.6 125.1L107.4 122.9ZM111.2 123.4L113.4 125.6L111.2 127.8L109.0 125.6ZM112.7 125.7L114.9 127.9L112.7 130.1L110.5 127.9ZM108.8 129.6L111.0 131.8L108.8 134.0L106.6 131.8ZM111.2 131.9L113.4 134.1L111.2 136.3L109.0 134.1ZM109.6 134.9L111.8 137.1L109.6 139.3L107.4 137.1ZM100.4 128.8L102.6 131.0L100.4 133.2L98.2 131.0ZM102.7 129.6L104.9 131.8L102.7 134.0L100.5 131.8ZM104.2 128.4L106.4 130.6L104.2 132.8L102.0 130.6ZM101.5 131.1L103.7 133.3L101.5 135.5L99.3 133.3ZM97.3 132.6L99.5 134.8L97.3 137.0L95.1 134.8ZM93.8 135.7L96.0 137.9L93.8 140.1L91.6 137.9ZM91.2 134.9L93.4 137.1L91.2 139.3L89.0 137.1ZM88.8 131.9L91.0 134.1L88.8 136.3L86.6 134.1ZM82.7 125.7L84.9 127.9L82.7 130.1L80.5 127.9ZM79.6 125.7L81.8 127.9L79.6 130.1L77.4 127.9ZM80.8 129.6L83.0 131.8L80.8 134.0L78.6 131.8ZM83.5 132.6L85.7 134.8L83.5 137.0L81.3 134.8ZM84.2 135.7L86.4 137.9L84.2 140.1L82.0 137.9ZM81.9 134.2L84.1 136.4L81.9 138.6L79.7 136.4ZM76.5 132.6L78.7 134.8L76.5 137.0L74.3 134.8ZM78.8 134.2L81.0 136.4L78.8 138.6L76.6 136.4ZM82.7 138.0L84.9 140.2L82.7 142.4L80.5 140.2ZM98.8 96.4L101.0 98.6L98.8 100.8L96.5 98.6ZM103.1 103.2L105.3 105.4L103.1 107.6L100.9 105.4ZM76.2 107.6L78.5 109.8L76.2 112.0L74.0 109.8ZM118.8 111.0L121.0 113.2L118.8 115.4L116.5 113.2ZM117.5 114.7L119.7 116.9L117.5 119.1L115.3 116.9ZM115.6 131.6L117.8 133.8L115.6 136.0L113.4 133.8ZM116.9 127.2L119.1 129.4L116.9 131.6L114.7 129.4ZM113.1 142.6L115.3 144.8L113.1 147.0L110.9 144.8ZM122.5 117.2L124.7 119.4L122.5 121.6L120.3 119.4ZM120.0 121.6L122.2 123.8L120.0 126.0L117.8 123.8ZM123.8 121.6L126.0 123.8L123.8 126.0L121.5 123.8ZM123.8 124.7L126.0 126.9L123.8 129.1L121.5 126.9ZM126.9 121.0L129.1 123.2L126.9 125.4L124.7 123.2ZM130.0 122.2L132.2 124.4L130.0 126.6L127.8 124.4ZM133.1 114.7L135.3 116.9L133.1 119.1L130.9 116.9ZM138.1 112.9L140.3 115.1L138.1 117.3L135.9 115.1ZM138.1 118.5L140.3 120.7L138.1 122.9L135.9 120.7ZM142.5 123.9L144.7 126.1L142.5 128.2L140.3 126.1ZM133.1 138.5L135.3 140.7L133.1 142.9L130.9 140.7ZM136.2 67.6L138.4 69.8L136.2 72.0L134.1 69.8ZM134.8 74.9L136.9 77.1L134.8 79.3L132.6 77.1ZM145.6 74.9L147.8 77.1L145.6 79.3L143.4 77.1ZM144.4 80.1L146.6 82.3L144.4 84.5L142.2 82.3ZM153.1 72.6L155.3 74.8L153.1 77.0L150.9 74.8ZM155.0 71.4L157.2 73.6L155.0 75.8L152.8 73.6ZM166.2 77.6L168.4 79.8L166.2 82.0L164.1 79.8ZM168.8 72.6L170.9 74.8L168.8 77.0L166.6 74.8ZM107.5 90.1L109.7 92.3L107.5 94.5L105.3 92.3ZM135.0 88.9L137.2 91.1L135.0 93.3L132.8 91.1ZM140.0 89.5L142.2 91.7L140.0 93.9L137.8 91.7ZM145.0 92.6L147.2 94.8L145.0 97.0L142.8 94.8ZM138.8 95.1L140.9 97.3L138.8 99.5L136.6 97.3ZM155.0 83.9L157.2 86.1L155.0 88.3L152.8 86.1ZM156.2 87.0L158.4 89.2L156.2 91.4L154.1 89.2ZM155.0 91.4L157.2 93.6L155.0 95.8L152.8 93.6ZM160.0 93.9L162.2 96.1L160.0 98.3L157.8 96.1ZM164.4 84.5L166.6 86.7L164.4 88.9L162.2 86.7ZM166.2 86.4L168.4 88.6L166.2 90.8L164.1 88.6ZM167.5 97.6L169.7 99.8L167.5 102.0L165.3 99.8ZM153.1 97.9L155.3 100.1L153.1 102.3L150.9 100.1ZM149.4 100.7L151.6 102.9L149.4 105.1L147.2 102.9ZM120.6 95.7L122.8 97.9L120.6 100.1L118.4 97.9ZM123.8 95.1L126.0 97.3L123.8 99.5L121.5 97.3ZM126.9 98.2L129.1 100.4L126.9 102.6L124.7 100.4ZM131.2 98.9L133.4 101.1L131.2 103.3L129.1 101.1ZM135.6 99.5L137.8 101.7L135.6 103.9L133.4 101.7ZM117.5 100.7L119.7 102.9L117.5 105.1L115.3 102.9ZM139.4 102.6L141.6 104.8L139.4 107.0L137.2 104.8ZM115.0 107.6L117.2 109.8L115.0 112.0L112.8 109.8ZM125.0 106.4L127.2 108.6L125.0 110.8L122.8 108.6ZM136.2 109.1L138.4 111.3L136.2 113.5L134.1 111.3ZM145.0 107.0L147.2 109.2L145.0 111.4L142.8 109.2ZM148.1 105.1L150.3 107.3L148.1 109.5L145.9 107.3ZM151.2 108.9L153.4 111.1L151.2 113.3L149.1 111.1ZM152.5 104.5L154.7 106.7L152.5 108.9L150.3 106.7ZM156.2 102.6L158.4 104.8L156.2 107.0L154.1 104.8ZM169.4 72.6L171.6 74.8L169.4 77.0L167.2 74.8ZM182.5 76.3L184.7 78.5L182.5 80.7L180.3 78.5ZM185.0 78.9L187.2 81.1L185.0 83.3L182.8 81.1ZM187.8 72.9L190.0 75.1L187.8 77.3L185.6 75.1ZM198.3 66.9L200.5 69.1L198.3 71.3L196.1 69.1ZM195.0 76.4L197.2 78.6L195.0 80.8L192.8 78.6ZM194.0 78.6L196.2 80.8L194.0 83.0L191.8 80.8ZM197.7 75.6L199.9 77.8L197.7 80.0L195.5 77.8ZM201.2 74.3L203.4 76.5L201.2 78.7L199.0 76.5ZM204.3 69.5L206.5 71.7L204.3 73.9L202.1 71.7ZM206.9 66.0L209.1 68.2L206.9 70.4L204.7 68.2ZM205.0 77.0L207.2 79.2L205.0 81.4L202.8 79.2ZM208.0 74.9L210.2 77.1L208.0 79.3L205.8 77.1ZM209.5 72.1L211.7 74.3L209.5 76.5L207.3 74.3ZM213.0 68.6L215.2 70.8L213.0 73.0L210.8 70.8ZM198.3 82.3L200.5 84.5L198.3 86.7L196.1 84.5ZM183.8 82.6L185.9 84.8L183.8 87.0L181.6 84.8ZM193.7 85.7L195.9 87.9L193.7 90.1L191.5 87.9ZM191.2 88.3L193.4 90.5L191.2 92.7L189.0 90.5ZM188.1 90.7L190.3 92.9L188.1 95.1L185.9 92.9ZM168.8 88.2L170.9 90.4L168.8 92.6L166.6 90.4ZM171.9 92.0L174.1 94.2L171.9 96.4L169.7 94.2ZM167.5 96.4L169.7 98.6L167.5 100.8L165.3 98.6ZM173.8 97.0L175.9 99.2L173.8 101.4L171.6 99.2ZM170.6 100.1L172.8 102.3L170.6 104.5L168.4 102.3ZM177.5 101.4L179.7 103.6L177.5 105.8L175.3 103.6ZM171.9 103.2L174.1 105.4L171.9 107.6L169.7 105.4ZM187.5 112.6L189.7 114.8L187.5 117.0L185.3 114.8Z" fill="none" stroke="#336a94" stroke-width="1"/>
<circle cx="52.5" cy="151.6" r="2.25" fill="#c21f1f"/>
<circle cx="55.0" cy="150.0" r="2.25" fill="#c21f1f"/>
<circle cx="57.5" cy="148.9" r="2.25" fill="#c21f1f"/>
<circle cx="71.3" cy="149.3" r="2.25" fill="#c21f1f"/>
<circle cx="74.4" cy="150.3" r="2.25" fill="#c21f1f"/>
<circle cx="78.1" cy="143.7" r="2.25" fill="#c21f1f"/>
<circle cx="84.9" cy="140.8" r="2.25" fill="#c21f1f"/>
<circle cx="87.4" cy="143.0" r="2.25" fill="#c21f1f"/>
<circle cx="95.2" cy="135.3" r="2.25" fill="#c21f1f"/>
<circle cx="92.5" cy="137.6" r="2.25" fill="#c21f1f"/>
<circle cx="99.1" cy="131.6" r="2.25" fill="#c21f1f"/>
<circle cx="101.4" cy="129.3" r="2.25" fill="#c21f1f"/>
<circle cx="102.5" cy="141.5" r="2.25" fill="#c21f1f"/>
<circle cx="92.8" cy="118.4" r="2.25" fill="#c21f1f"/>
<circle cx="93.7" cy="121.6" r="2.25" fill="#c21f1f"/>
<circle cx="96.8" cy="115.5" r="2.25" fill="#c21f1f"/>
<circle cx="107.6" cy="119.3" r="2.25" fill="#c21f1f"/>
<circle cx="111.5" cy="115.3" r="2.25" fill="#c21f1f"/>
<circle cx="119.9" cy="103.1" r="2.25" fill="#c21f1f"/>
<circle cx="121.4" cy="125.8" r="2.25" fill="#c21f1f"/>
<circle cx="133.3" cy="80.4" r="2.25" fill="#c21f1f"/>
<circle cx="161.8" cy="73.1" r="2.25" fill="#c21f1f"/>
<circle cx="167.2" cy="76.5" r="2.25" fill="#c21f1f"/>
<circle cx="148.7" cy="88.1" r="2.25" fill="#c21f1f"/>
<circle cx="161.8" cy="90.4" r="2.25" fill="#c21f1f"/>
<circle cx="166.4" cy="88.8" r="2.25" fill="#c21f1f"/>
<circle cx="173.3" cy="91.9" r="2.25" fill="#c21f1f"/>
<circle cx="176.4" cy="94.2" r="2.25" fill="#c21f1f"/>
<circle cx="163.3" cy="97.3" r="2.25" fill="#c21f1f"/>
<circle cx="170.3" cy="99.6" r="2.25" fill="#c21f1f"/>
<circle cx="149.5" cy="96.5" r="2.25" fill="#c21f1f"/>
<circle cx="152.6" cy="99.6" r="2.25" fill="#c21f1f"/>
<circle cx="124.1" cy="99.6" r="2.25" fill="#c21f1f"/>
<circle cx="131.8" cy="102.7" r="2.25" fill="#c21f1f"/>
<circle cx="121.0" cy="104.2" r="2.25" fill="#c21f1f"/>
<circle cx="128.7" cy="108.8" r="2.25" fill="#c21f1f"/>
<circle cx="141.8" cy="110.4" r="2.25" fill="#c21f1f"/>
<circle cx="158.7" cy="104.2" r="2.25" fill="#c21f1f"/>
<circle cx="160.3" cy="107.3" r="2.25" fill="#c21f1f"/>
<circle cx="108.0" cy="120.4" r="2.25" fill="#c21f1f"/>
<circle cx="139.5" cy="118.1" r="2.25" fill="#c21f1f"/>
<circle cx="125.7" cy="121.1" r="2.25" fill="#c21f1f"/>
<circle cx="121.8" cy="124.2" r="2.25" fill="#c21f1f"/>
<circle cx="141.0" cy="125.0" r="2.25" fill="#c21f1f"/>
<circle cx="198.7" cy="69.2" r="2.25" fill="#c21f1f"/>
<circle cx="201.8" cy="70.8" r="2.25" fill="#c21f1f"/>
<circle cx="204.1" cy="69.2" r="2.25" fill="#c21f1f"/>
<circle cx="211.8" cy="71.5" r="2.25" fill="#c21f1f"/>
<circle cx="198.0" cy="80.0" r="2.25" fill="#c21f1f"/>
<circle cx="203.3" cy="84.6" r="2.25" fill="#c21f1f"/>
<circle cx="192.6" cy="85.4" r="2.25" fill="#c21f1f"/>
<circle cx="191.8" cy="88.5" r="2.25" fill="#c21f1f"/>
<circle cx="181.0" cy="96.9" r="2.25" fill="#c21f1f"/>
<circle cx="182.6" cy="98.5" r="2.25" fill="#c21f1f"/>
<circle cx="123.0" cy="121.5" r="2.25" fill="#c21f1f"/>
<circle cx="97.6" cy="133.1" r="2.25" fill="#c21f1f"/>
<rect x="45.5" y="44.5" width="197" height="114" fill="none" stroke="#444" stroke-width="1"/>
<line x1="52.4" y1="158.5" x2="52.4" y2="161.5" stroke="#444" stroke-width="1"/>
<text x="53.0" y="173.7" font-size="8.2" text-anchor="middle" fill="#222" stroke="#222" stroke-width="0.12">0</text>
<line x1="42" y1="154.1" x2="45.5" y2="154.1" stroke="#444" stroke-width="1"/>
<text x="0" y="0" font-size="8.2" text-anchor="middle" fill="#222" stroke="#222" stroke-width="0.12" transform="translate(38 154.1) rotate(-90)">0</text>
<line x1="104.8" y1="158.5" x2="104.8" y2="161.5" stroke="#444" stroke-width="1"/>
<text x="105.4" y="173.7" font-size="8.2" text-anchor="middle" fill="#222" stroke="#222" stroke-width="0.12">100</text>
<line x1="42" y1="124.0" x2="45.5" y2="124.0" stroke="#444" stroke-width="1"/>
<text x="0" y="0" font-size="8.2" text-anchor="middle" fill="#222" stroke="#222" stroke-width="0.12" transform="translate(38 124.0) rotate(-90)">100</text>
<line x1="157.3" y1="158.5" x2="157.3" y2="161.5" stroke="#444" stroke-width="1"/>
<text x="157.9" y="173.7" font-size="8.2" text-anchor="middle" fill="#222" stroke="#222" stroke-width="0.12">200</text>
<line x1="42" y1="93.8" x2="45.5" y2="93.8" stroke="#444" stroke-width="1"/>
<text x="0" y="0" font-size="8.2" text-anchor="middle" fill="#222" stroke="#222" stroke-width="0.12" transform="translate(38 93.8) rotate(-90)">200</text>
<line x1="209.8" y1="158.5" x2="209.8" y2="161.5" stroke="#444" stroke-width="1"/>
<text x="210.3" y="173.7" font-size="8.2" text-anchor="middle" fill="#222" stroke="#222" stroke-width="0.12">300</text>
<line x1="42" y1="63.7" x2="45.5" y2="63.7" stroke="#444" stroke-width="1"/>
<text x="0" y="0" font-size="8.2" text-anchor="middle" fill="#222" stroke="#222" stroke-width="0.12" transform="translate(38 63.7) rotate(-90)">300</text>
<text x="85" y="187.8" font-size="7.5" textLength="127" lengthAdjust="spacingAndGlyphs" fill="#222" stroke="#222" stroke-width="0.22">Rank of FLC Difference (inv-uninv)</text>
<text x="0" y="0" font-size="7.4" textLength="96.5" lengthAdjust="spacingAndGlyphs" fill="#222" stroke="#222" stroke-width="0.22" transform="translate(22.3 148) rotate(-90)">Rank of FLC Ratio (inv/uninv)</text>
<text x="0" y="0" font-size="10" text-anchor="middle" fill="#4a4a4a" transform="translate(141 29.3) scale(1.137 1)">other 14q32 translocation vs. none</text>
</g>
<rect x="6" y="5" width="508" height="382" fill="none" stroke="#111" stroke-width="2"/>
</svg>
</body></html>
